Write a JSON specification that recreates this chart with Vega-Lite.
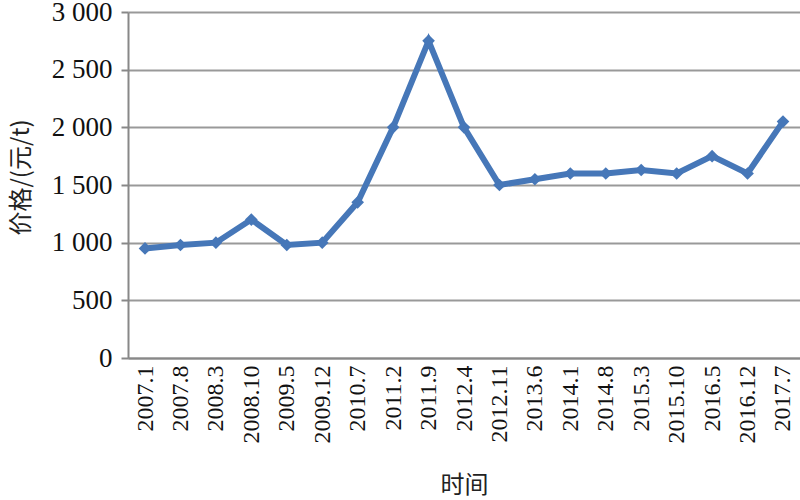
{
  "$schema": "https://vega.github.io/schema/vega-lite/v6.json",
  "width": 672,
  "height": 346,
  "autosize": {"type": "none"},
  "padding": {"left": 128, "top": 12, "right": 0, "bottom": 142},
  "background": "white",
  "data": {
    "values": [
      {"t": "2007.1", "v": 950},
      {"t": "2007.8", "v": 980},
      {"t": "2008.3", "v": 1000},
      {"t": "2008.10", "v": 1200},
      {"t": "2009.5", "v": 980},
      {"t": "2009.12", "v": 1000},
      {"t": "2010.7", "v": 1350},
      {"t": "2011.2", "v": 2000},
      {"t": "2011.9", "v": 2750},
      {"t": "2012.4", "v": 2000},
      {"t": "2012.11", "v": 1500},
      {"t": "2013.6", "v": 1550},
      {"t": "2014.1", "v": 1600},
      {"t": "2014.8", "v": 1600},
      {"t": "2015.3", "v": 1630},
      {"t": "2015.10", "v": 1600},
      {"t": "2016.5", "v": 1750},
      {"t": "2016.12", "v": 1600},
      {"t": "2017.7", "v": 2050}
    ]
  },
  "config": {
    "view": {"stroke": null},
    "font": "Liberation Serif, Times New Roman, serif"
  },
  "mark": {
    "type": "line",
    "color": "#4677B8",
    "strokeWidth": 6,
    "point": {"shape": "diamond", "size": 160, "filled": true, "color": "#4677B8"}
  },
  "encoding": {
    "x": {
      "field": "t",
      "type": "ordinal",
      "sort": null,
      "scale": {"type": "point", "padding": 0.48},
      "axis": {
        "title": "时间",
        "titleFont": "Noto Sans CJK SC",
        "titleFontSize": 24,
        "titleFontWeight": "normal",
        "titleColor": "#222",
        "titlePadding": 30,
        "labelAngle": -90,
        "labelAlign": "right",
        "labelBaseline": "middle",
        "labelFont": "Liberation Serif, Times New Roman, serif",
        "labelFontSize": 24,
        "labelColor": "#111",
        "labelPadding": 7,
        "ticks": false,
        "domainColor": "#888",
        "domainWidth": 2
      }
    },
    "y": {
      "field": "v",
      "type": "quantitative",
      "scale": {"domain": [0, 3000], "nice": false},
      "axis": {
        "title": "价格/(元/t)",
        "titleFont": "Noto Sans CJK SC",
        "titleFontSize": 24,
        "titleFontWeight": "normal",
        "titleColor": "#222",
        "titleX": -95,
        "titleY": 165,
        "values": [0, 500, 1000, 1500, 2000, 2500, 3000],
        "labelExpr": "replace(format(datum.value, ','), ',', ' ')",
        "labelFont": "Liberation Serif, Times New Roman, serif",
        "labelFontSize": 27,
        "labelColor": "#111",
        "labelPadding": 9,
        "ticks": true,
        "tickSize": 7,
        "tickWidth": 2,
        "tickColor": "#888",
        "gridColor": "#999",
        "gridWidth": 2,
        "domainColor": "#888",
        "domainWidth": 2
      }
    }
  }
}
